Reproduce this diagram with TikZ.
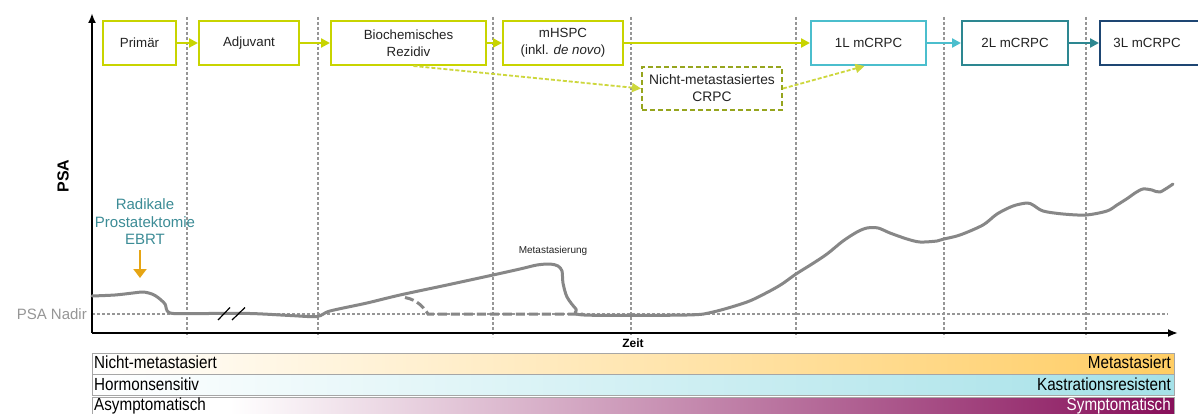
\documentclass[tikz,border=0pt]{standalone}
\usepackage{fontspec}
\setmainfont{Liberation Sans}
\newfontfamily\narrowfont[FakeStretch=0.87]{Liberation Sans}
\usetikzlibrary{arrows.meta,calc}
\definecolor{lime}{RGB}{200,212,0}
\definecolor{limedash}{RGB}{205,215,60}
\definecolor{olive}{RGB}{150,165,30}
\definecolor{cyanbox}{RGB}{75,190,205}
\definecolor{tealbox}{RGB}{45,135,145}
\definecolor{navybox}{RGB}{30,70,115}
\definecolor{tealtext}{RGB}{60,140,150}
\definecolor{orangearrow}{RGB}{230,165,20}
\definecolor{curvegray}{RGB}{135,135,135}
\definecolor{gridgray}{RGB}{150,150,150}
\definecolor{nadirgray}{RGB}{150,150,150}
\definecolor{barorange}{RGB}{255,205,100}
\definecolor{barcyan}{RGB}{165,225,232}
\definecolor{barpurple}{RGB}{135,15,90}
\definecolor{boxtext}{RGB}{35,35,35}
\tikzset{
  stagebox/.style={draw=lime, line width=2pt, fill=white, minimum height=44, inner sep=0pt,
    align=center, text=boxtext, font=\fontsize{13.3}{17}\selectfont},
  limearrow/.style={draw=lime, line width=2.2pt, -{Triangle[length=9pt,width=9pt]}},
  dasharrow/.style={draw=limedash, line width=1.8pt, dash pattern=on 4pt off 2pt, -{Triangle[length=9pt,width=9pt]}},
  gridline/.style={draw=gridgray, line width=1.2pt, dash pattern=on 3pt off 2pt},
  curveline/.style={draw=curvegray, line width=3pt, line join=round, line cap=round},
  bartext/.style={font=\narrowfont\fontsize{17.5}{20}\selectfont, inner sep=0pt},
  axisline/.style={draw=black, line width=2pt, -{Latex[length=10pt,width=8pt]}}
}
\begin{document}
\begin{tikzpicture}[x=1pt,y=-1pt]
\useasboundingbox (0,0) rectangle (1198,414);
\fill[white] (0,0) rectangle (1198,414);

% vertical dashed grid lines
\foreach \gx in {187,318,493,631,796,944,1086}{
  \draw[gridline] (\gx,17) -- (\gx,337);
}
% PSA nadir line
\coordinate (nadirL) at (92,314);
\coordinate (nadirR) at (1168,314);
\draw[draw=nadirgray, line width=1.2pt, dash pattern=on 3pt off 2pt] (nadirL) -- (nadirR);

% axes
\coordinate (O) at (92,333);
\coordinate (ytop) at (92,13);
\coordinate (xend) at (1178,333);
\draw[axisline] (O) -- (ytop);
\draw[axisline] (O) -- (xend);

% labels
\node[font=\bfseries\fontsize{16}{18}\selectfont, rotate=90] (psa) at (63,176) {PSA};
\node[font=\fontsize{15}{17}\selectfont, text=nadirgray, anchor=east, inner sep=0pt] (nadir) at (87,314) {PSA Nadir};
\node[font=\bfseries\fontsize{12}{14}\selectfont] (zeit) at (633,343) {Zeit};
\node[font=\fontsize{15}{17.5}\selectfont, text=tealtext, align=center] (rad) at (145,222) {Radikale\\Prostatektomie\\EBRT};
\coordinate (oa1) at (140,250);
\coordinate (oa2) at (140,278);
\draw[draw=orangearrow, line width=2pt, -{Triangle[length=9pt,width=13pt]}] (oa1) -- (oa2);
\node[font=\fontsize{10}{12}\selectfont, text=boxtext] (meta) at (553,251) {Metastasierung};

% PSA curve
\draw[curveline] plot[smooth, tension=0.5] coordinates {
(92,296) (115,295) (133,293) (143,292) (152,294) (158,297.5) (165,304) (170,313)
(200,313.5) (250,313.5) (290,315.5) (317,316.5) (330,311) (367,303) (400,295)
(447,285) (493,275) (520,269) (537,265) (550,264) (558,266) (562,271) (563,283)
(567,297) (576,309) (584,315) (687,315) (713,312) (747,302) (768,292) (782,284)
(796,274) (812,264) (827,254) (843,241) (857,232) (867,228) (878,228)
(890,233) (907,239) (920,242) (937,241) (944,239) (960,235) (983,225) (997,214)
(1013,206) (1027,203) (1033,205) (1043,211) (1063,214) (1086,215) (1107,211)
(1117,205) (1128,198) (1135,193) (1143,189) (1152,190) (1160,192) (1173,184)};
\draw[draw=curvegray, line width=3pt, dash pattern=on 9pt off 4pt]
  (405,297.5) .. controls (418,300) and (424,308) .. (428,314) -- (583,314);

% break marks
\draw[black, line width=1.2pt] (218,320) -- (230,307.5);
\draw[black, line width=1.2pt] (232,320) -- (245,307.5);

% stage boxes
\node[stagebox, minimum width=73] (prim) at (139.5,43) {Primär};
\node[stagebox, minimum width=100] (adj) at (249,43) {Adjuvant};
\node[stagebox, minimum width=155] (bio) at (408.5,43) {Biochemisches\\Rezidiv};
\node[stagebox, minimum width=120] (mhspc) at (563,43) {mHSPC\\(inkl. \textit{de novo})};
\node[stagebox, draw=cyanbox, minimum width=115] (l1) at (868.5,43) {1L mCRPC};
\node[stagebox, draw=tealbox, minimum width=106] (l2) at (1015,43) {2L mCRPC};
\node[stagebox, draw=navybox, minimum width=100] (l3) at (1150,43) {\hspace*{-3pt}3L mCRPC\hspace*{3pt}};
\node[stagebox, draw=olive, dash pattern=on 5pt off 3pt, minimum width=140, minimum height=43,
      font=\fontsize{13.8}{17}\selectfont] (nm) at (712,88.5) {Nicht-metastasiertes\\CRPC};

\draw[limearrow] (prim) -- (adj);
\draw[limearrow] (adj) -- (bio);
\draw[limearrow] (bio) -- (mhspc);
\draw[limearrow] (mhspc) -- (l1);
\draw[draw=cyanbox, line width=2.2pt, -{Triangle[length=9pt,width=9pt]}] (l1) -- (l2);
\draw[draw=tealbox, line width=2.2pt, -{Triangle[length=9pt,width=9pt]}] (l2) -- (l3);
\draw[dasharrow] ([xshift=5pt]bio.south) -- (nm.west);
\draw[dasharrow] (nm.east) -- ([xshift=-4pt]l1.south);

% bottom bars
\shade[left color=white, right color=barorange] (92,353) rectangle (1174,374);
\shade[left color=white, right color=barcyan] (92,374) rectangle (1174,395);
\fill[white] (92,397) rectangle (230,416);
\shade[left color=white, right color=barpurple] (230,397) rectangle (1174,416);
\draw[draw=gray!70, line width=1pt] (92,353) rectangle (1174,395);
\draw[draw=gray!70, line width=0.6pt] (92,374) -- (1174,374);
\draw[draw=gray!70, line width=1pt] (92,397) rectangle (1174,418);

\node[bartext, anchor=base west] (b1l) at (94,368.5) {Nicht-metastasiert};
\node[bartext, anchor=base east] (b1r) at (1171,368.5) {Metastasiert};
\node[bartext, anchor=base west] (b2l) at (94,390) {Hormonsensitiv};
\node[bartext, anchor=base east] (b2r) at (1171,390) {Kastrationsresistent};
\node[bartext, anchor=base west] (b3l) at (94,410.5) {Asymptomatisch};
\node[bartext, anchor=base east, text=white] (b3r) at (1171,410.5) {Symptomatisch};
\end{tikzpicture}
\end{document}
